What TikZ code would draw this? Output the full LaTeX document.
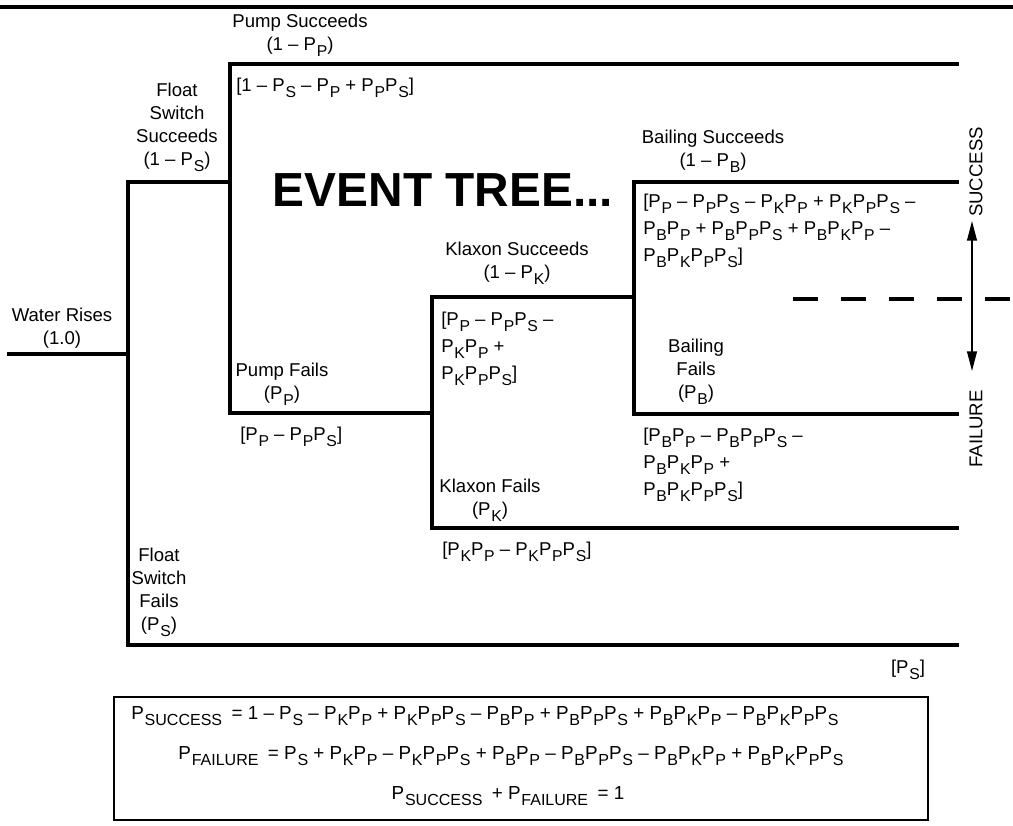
\documentclass[tikz,border=0pt]{standalone}
\usepackage{fontspec}
\setmainfont{Liberation Sans}
\usetikzlibrary{positioning, arrows.meta}
\newcommand{\Pof}[1]{P\kern0.04em\raisebox{-0.6ex}{\scalebox{0.85}{#1}}}

\begin{document}
\begin{tikzpicture}[x=0.025cm, y=-0.025cm,
          ln/.style={line width=2.2pt, line cap=rect},
          lbl/.style={align=center, inner sep=0pt, font=\fontsize{13.2}{16.4}\selectfont},
          val/.style={align=left, anchor=west, inner sep=0pt, font=\fontsize{13.2}{19.2}\selectfont},
          side/.style={rotate=90, inner sep=0pt, font=\fontsize{13.2}{15}\selectfont},
          eq/.style={inner sep=0pt, font=\fontsize{13.4}{15}\selectfont},
          dbl/.style={{Triangle[length=14pt, width=7pt]}-{Triangle[length=14pt, width=7pt]}, line width=1.1pt}]
        \useasboundingbox (0,0) rectangle (1013,825);
        \coordinate (topL) at (0,7);
        \coordinate (topR) at (1013,7);
        \draw[line width=2.2pt] (topL) -- (topR);

        \coordinate (wr) at (9,354);
        \coordinate (fsw) at (128,354);
        \coordinate (fsUp) at (128,182);
        \coordinate (fsDn) at (128,645);
        \coordinate (pmpMid) at (230,182);
        \coordinate (pmpUp) at (230,64);
        \coordinate (pmpDn) at (230,413);
        \coordinate (klxMid) at (432,413);
        \coordinate (klxUp) at (432,297);
        \coordinate (klxDn) at (432,528);
        \coordinate (bailMid) at (634,297);
        \coordinate (bailUp) at (634,182);
        \coordinate (bailDn) at (634,414);
        \coordinate (endPS) at (957,64);
        \coordinate (endBS) at (957,182);
        \coordinate (endBF) at (957,414);
        \coordinate (endKF) at (957,528);
        \coordinate (endFF) at (957,645);
        \draw[ln] (wr) -- (fsw);
        \draw[ln] (fsUp) -- (fsDn);
        \draw[ln] (fsUp) -- (pmpMid);
        \draw[ln] (pmpUp) -- (pmpDn);
        \draw[ln] (pmpUp) -- (endPS);
        \draw[ln] (pmpDn) -- (klxMid);
        \draw[ln] (klxUp) -- (klxDn);
        \draw[ln] (klxDn) -- (endKF);
        \draw[ln] (klxUp) -- (bailMid);
        \draw[ln] (bailUp) -- (bailDn);
        \draw[ln] (bailUp) -- (endBS);
        \draw[ln] (bailDn) -- (endBF);
        \draw[ln] (fsDn) -- (endFF);

        \node[lbl] (wrLbl) at (62,328) {Water Rises\\(1.0)};
        \node[lbl] (fsOkLbl) at (177,127) {Float\\Switch\\Succeeds\\(1 -- \Pof{S})};
        \node[lbl] (fsFailLbl) at (159,592) {Float\\Switch\\Fails\\(\Pof{S})};
        \node[lbl] (pmpOkLbl) at (300,35) {Pump Succeeds\\(1 -- \Pof{P})};
        \node[lbl] (pmpFailLbl) at (282,384) {Pump Fails\\(\Pof{P})};
        \node[lbl] (klxOkLbl) at (517,263) {Klaxon Succeeds\\(1 -- \Pof{K})};
        \node[lbl] (klxFailLbl) at (490,500) {Klaxon Fails\\(\Pof{K})};
        \node[lbl] (bailOkLbl) at (713,151) {Bailing Succeeds\\(1 -- \Pof{B})};
        \node[lbl] (bailFailLbl) at (696,372) {Bailing\\Fails\\(\Pof{B})};

        \node[val] (pmpOkVal) at (236,88) {[1 -- \Pof{S} -- \Pof{P} + \Pof{P}\Pof{S}]};
        \node[val] (pmpFailVal) at (240,437) {[\Pof{P} -- \Pof{P}\Pof{S}]};
        \node[val] (klxOkVal) at (441,349) {[\Pof{P} -- \Pof{P}\Pof{S} --\\\Pof{K}\Pof{P} +\\\Pof{K}\Pof{P}\Pof{S}]};
        \node[val] (klxFailVal) at (442,552) {[\Pof{K}\Pof{P} -- \Pof{K}\Pof{P}\Pof{S}]};
        \node[val] (bailOkVal) at (643,231) {[\Pof{P} -- \Pof{P}\Pof{S} -- \Pof{K}\Pof{P} + \Pof{K}\Pof{P}\Pof{S} --\\\Pof{B}\Pof{P} + \Pof{B}\Pof{P}\Pof{S} + \Pof{B}\Pof{K}\Pof{P} --\\\Pof{B}\Pof{K}\Pof{P}\Pof{S}]};
        \node[val] (bailFailVal) at (643,465) {[\Pof{B}\Pof{P} -- \Pof{B}\Pof{P}\Pof{S} --\\\Pof{B}\Pof{K}\Pof{P} +\\\Pof{B}\Pof{K}\Pof{P}\Pof{S}]};
        \node[val, anchor=center] (fsFailVal) at (908,670) {[\Pof{S}]};

        \node[font=\fontsize{34}{34}\selectfont\bfseries, inner sep=0pt] (title) at (443,190) {EVENT TREE...};

        \node[side] (succ) at (976,172) {SUCCESS};
        \node[side] (fail) at (976,429) {FAILURE};
        \coordinate (arrTop) at (972,221);
        \coordinate (arrBot) at (972,371);
        \draw[dbl] (arrTop) -- (arrBot);
        \coordinate (dashL) at (793,299);
        \coordinate (dashR) at (1013,299);
        \draw[line width=2.2pt, dash pattern=on 17.8pt off 16.4pt] (dashL) -- (dashR);

        \coordinate (boxNW) at (114,697);
        \coordinate (boxSE) at (928,820);
        \draw[line width=1.5pt] (boxNW) rectangle (boxSE);
        \node[eq] (eqSucc) at (485,716) {\Pof{SUCCESS}\enspace = 1 -- \Pof{S} -- \Pof{K}\Pof{P} + \Pof{K}\Pof{P}\Pof{S} -- \Pof{B}\Pof{P} + \Pof{B}\Pof{P}\Pof{S} + \Pof{B}\Pof{K}\Pof{P} -- \Pof{B}\Pof{K}\Pof{P}\Pof{S}};
        \node[eq] (eqFail) at (511,756) {\Pof{FAILURE}\enspace = \Pof{S} + \Pof{K}\Pof{P} -- \Pof{K}\Pof{P}\Pof{S} + \Pof{B}\Pof{P} -- \Pof{B}\Pof{P}\Pof{S} -- \Pof{B}\Pof{K}\Pof{P} + \Pof{B}\Pof{K}\Pof{P}\Pof{S}};
        \node[eq] (eqSum) at (508,796) {\Pof{SUCCESS}\enspace + \Pof{FAILURE}\enspace = 1};
      \end{tikzpicture}
\end{document}
